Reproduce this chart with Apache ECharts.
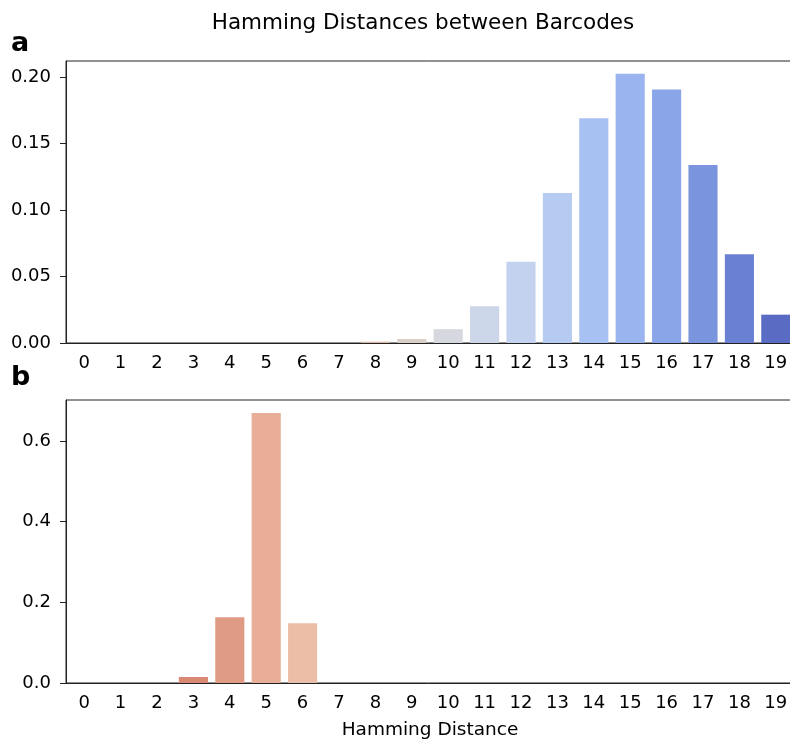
<!DOCTYPE html>
<html>
<head>
<meta charset="utf-8">
<script src="https://cdn.jsdelivr.net/npm/echarts@6/dist/echarts.min.js"></script>
<style>
html,body{margin:0;padding:0;background:#fff;overflow:hidden;}
#chart{width:790px;height:742px;}
</style>
</head>
<body>
<div id="chart"></div>
<script>
// ---- data ----
const categories = ['0','1','2','3','4','5','6','7','8','9','10','11','12','13','14','15','16','17','18','19'];
const valuesA = [0, 0, 0, 0, 0, 0, 0, 0, 0.001, 0.003, 0.0104, 0.0277, 0.061, 0.1127, 0.169, 0.2025, 0.1905, 0.1338, 0.0668, 0.0213];
const valuesB = [0, 0, 0, 0.0149, 0.163, 0.6695, 0.148, 0, 0, 0, 0, 0, 0, 0, 0, 0, 0, 0, 0, 0];
const yTicksA = [0, 0.05, 0.10, 0.15, 0.20];
const yTicksB = [0, 0.2, 0.4, 0.6];
const title = 'Hamming Distances between Barcodes';
const xName = 'Hamming Distance';

// ---- palettes ----
const paletteA = ['#c5634f','#cb7159','#d17f65','#d68d73','#da9a81','#dda790','#dfb39f','#e0bfae',
                  '#d9b8a8','#dccfc7','#d5d8de','#cbd6e9','#c2d2ef','#b6cbf2','#a8c1f3','#9ab4ef',
                  '#8aa5e8','#7a94de','#6a80d2','#5a6bc4'];
const paletteB = ['#b8493d','#c55b48','#cf6d56','#d98a73','#e09b84','#e8ae97','#ecbea8','#e9c9ba',
                  '#e0d2cb','#d7d8dc','#cfd6e5','#c6d3ee','#bccdf2','#b0c6f3','#a3bbf1','#95afec',
                  '#879fe5','#7890db','#6a80d1','#5b6cc4'];

const FONT = 'DejaVu Sans';
const axisColor = '#222';

function xAxisCfg(gridIndex, withName) {
  return {
    type: 'category', gridIndex: gridIndex, data: categories,
    boundaryGap: true,
    axisLine: {lineStyle: {color: axisColor, width: 1}},
    axisTick: {alignWithLabel: true, length: 6, lineStyle: {color: axisColor}},
    axisLabel: {color: '#000', fontFamily: FONT, fontSize: 18, margin: 11, interval: 0},
    name: withName ? xName : '',
    nameLocation: 'middle', nameGap: 38,
    nameTextStyle: {color: '#000', fontFamily: FONT, fontSize: 18.5, verticalAlign: 'top'}
  };
}
function yAxisCfg(gridIndex, max, ticks, digits) {
  return {
    type: 'value', gridIndex: gridIndex, min: 0, max: max,
    axisLine: {show: true, lineStyle: {color: axisColor, width: 1}},
    axisTick: {show: true, length: 6, lineStyle: {color: axisColor}, customValues: ticks},
    axisLabel: {color: '#000', fontFamily: FONT, fontSize: 18, margin: 15, customValues: ticks,
                formatter: v => v.toFixed(digits)},
    splitLine: {show: false}
  };
}

const chart = echarts.init(document.getElementById('chart'), null, {renderer: 'canvas'});
chart.setOption({
  backgroundColor: '#fff',
  animation: false,
  title: {
    text: title, left: 418, top: 7, textAlign: 'center',
    textStyle: {fontFamily: FONT, fontSize: 21.5, fontWeight: 'normal', color: '#000'}
  },
  graphic: [
    {type: 'text', left: 11, top: 30, style: {text: 'a', font: 'bold 27px "DejaVu Sans"', fill: '#000'}},
    {type: 'text', left: 11, top: 364, style: {text: 'b', font: 'bold 27px "DejaVu Sans"', fill: '#000'}}
  ],
  grid: [
    {left: 66, width: 728, top: 61, height: 282, show: true, borderColor: axisColor, borderWidth: 1,
     containLabel: false, outerBoundsMode: 'none'},
    {left: 66, width: 728, top: 400, height: 283, show: true, borderColor: axisColor, borderWidth: 1,
     containLabel: false, outerBoundsMode: 'none'}
  ],
  xAxis: [xAxisCfg(0, false), xAxisCfg(1, true)],
  yAxis: [yAxisCfg(0, 0.212, yTicksA, 2), yAxisCfg(1, 0.702, yTicksB, 1)],
  series: [
    {
      type: 'bar', xAxisIndex: 0, yAxisIndex: 0, barCategoryGap: '20%',
      data: valuesA.map((v, i) => ({value: v, itemStyle: {color: paletteA[i]}}))
    },
    {
      type: 'bar', xAxisIndex: 1, yAxisIndex: 1, barCategoryGap: '20%',
      data: valuesB.map((v, i) => ({value: v, itemStyle: {color: paletteB[i]}}))
    }
  ]
});
</script>
</body>
</html>
